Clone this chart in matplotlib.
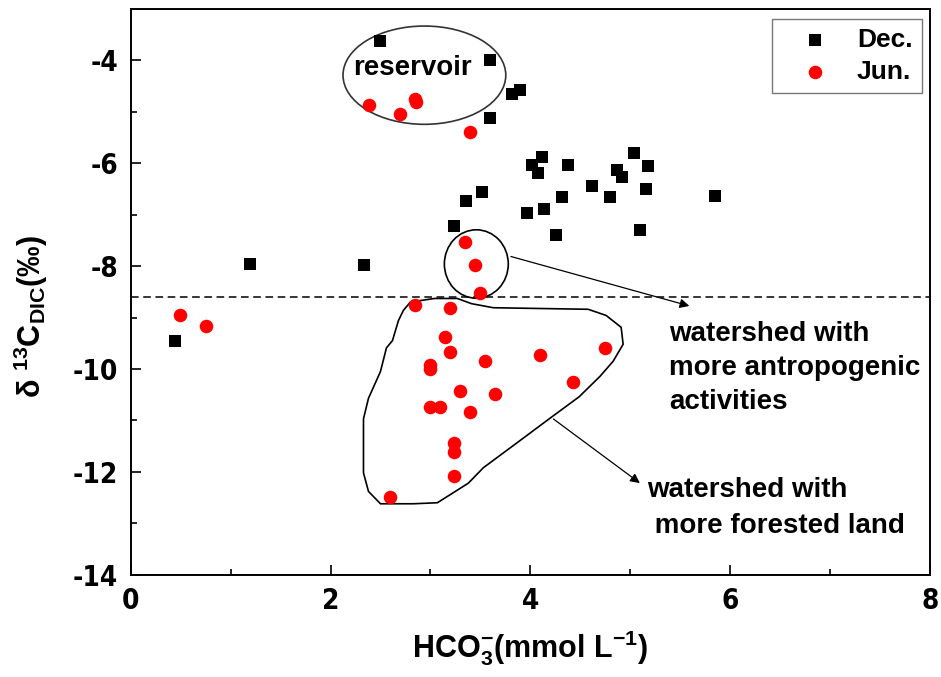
import numpy as np
import matplotlib
matplotlib.use("Agg")
import matplotlib.pyplot as plt
import matplotlib.font_manager as fm
from matplotlib.patches import Ellipse, Polygon

# look for a condensed bold face for tick labels (Arial Narrow look)
_cond = None
for _fe in fm.fontManager.ttflist:
    _nm = (_fe.name + " " + str(_fe.stretch)).lower()
    if ("narrow" in _nm or "condensed" in _nm) and str(_fe.weight) in ("700", "bold"):
        _cond = fm.FontProperties(fname=_fe.fname)
        break

plt.rcParams["font.family"] = ["Liberation Sans", "DejaVu Sans"]
plt.rcParams["axes.unicode_minus"] = False
plt.rcParams["mathtext.fontset"] = "custom"
plt.rcParams["mathtext.rm"] = "Liberation Sans:bold"
plt.rcParams["mathtext.bf"] = "Liberation Sans:bold"
plt.rcParams["mathtext.it"] = "Liberation Sans:bold"
plt.rcParams["mathtext.default"] = "rm"

# December samples
dec_x = [2.50, 3.60, 3.82, 3.90, 3.60, 3.36, 3.52, 3.24, 3.97, 1.19, 2.34,
         4.12, 4.02, 4.08, 4.38, 5.04, 5.18, 4.87, 4.92, 4.62, 5.16, 4.80,
         4.32, 5.85, 4.14, 4.26, 5.10, 0.44]
dec_y = [-3.62, -4.00, -4.66, -4.58, -5.13, -6.73, -6.56, -7.22, -6.96, -7.96, -7.98,
         -5.88, -6.04, -6.20, -6.03, -5.81, -6.06, -6.14, -6.27, -6.44, -6.50, -6.65,
         -6.65, -6.64, -6.90, -7.40, -7.29, -9.45]

# June samples
jun_x = [2.39, 2.70, 2.85, 2.86, 3.40, 3.35, 3.45, 3.50,
         0.49, 0.75, 2.85, 3.20, 3.15, 3.20, 3.00, 3.00, 3.55, 4.10, 4.75,
         4.43, 3.30, 3.65, 3.00, 3.10, 3.40, 3.24, 3.24, 3.24, 2.60]
jun_y = [-4.86, -5.04, -4.76, -4.82, -5.39, -7.53, -7.98, -8.52,
         -8.95, -9.16, -8.75, -8.82, -9.38, -9.67, -9.93, -10.00, -9.84, -9.73, -9.59,
         -10.25, -10.42, -10.48, -10.74, -10.73, -10.84, -11.43, -11.61, -12.08, -12.48]

threshold = -8.6

# outline of the forested-watershed group
forest_x = [2.80, 3.04, 3.27, 3.41, 3.63, 4.58, 4.76, 4.91, 4.93, 4.83, 4.70, 4.49,
            4.21, 3.85, 3.53, 3.38, 3.07, 2.83, 2.50, 2.38, 2.33, 2.33, 2.38, 2.50,
            2.56, 2.62, 2.68, 2.73]
forest_y = [-8.70, -8.63, -8.63, -8.73, -8.81, -8.84, -8.96, -9.19, -9.52, -9.85, -10.14,
            -10.54, -10.94, -11.46, -11.92, -12.22, -12.60, -12.62, -12.62, -12.38,
            -12.02, -10.97, -10.57, -10.05, -9.59, -9.45, -9.06, -8.86]

fig = plt.figure(figsize=(9.41, 6.77), dpi=100)
ax = fig.add_axes([0.139, 0.151, 0.849, 0.836])

ax.scatter(dec_x, dec_y, marker="s", s=75, color="black", label="Dec.", zorder=3,
           linewidths=0)
ax.scatter(jun_x, jun_y, marker="o", s=95, color="red", label="Jun.", zorder=3,
           linewidths=0)

ax.axhline(threshold, color="black", linestyle=(0, (5, 3)), linewidth=1.1)

# group outlines
ax.add_patch(Ellipse((2.94, -4.29), 1.63, 1.91, fill=False, edgecolor="#333333", linewidth=1.2))
ax.add_patch(Ellipse((3.46, -7.96), 0.64, 1.33, fill=False, edgecolor="black", linewidth=1.2))
ax.add_patch(Polygon(np.column_stack([forest_x, forest_y]), closed=True, fill=False,
                     edgecolor="black", linewidth=1.2))

arrow = dict(arrowstyle="-|>", color="black", linewidth=0.9, mutation_scale=14)
ax.annotate("", xy=(5.62, -8.79), xytext=(3.78, -7.80), arrowprops=arrow)
ax.annotate("", xy=(5.12, -12.25), xytext=(4.21, -10.94), arrowprops=arrow)

ax.text(2.82, -4.15, "reservoir", fontsize=20, fontweight="bold", ha="center", va="center")
ax.text(5.39, -9.98, "watershed with\nmore antropogenic\nactivities", fontsize=20,
        fontweight="bold", ha="left", va="center", linespacing=1.42)
ax.text(5.17, -12.71, "watershed with\n more forested land", fontsize=20,
        fontweight="bold", ha="left", va="center", linespacing=1.5)

ax.set_xlim(0, 8)
ax.set_ylim(-14, -3)
ax.set_xticks([0, 2, 4, 6, 8])
ax.set_xticks([1, 3, 5, 7], minor=True)
ax.set_yticks([-14, -12, -10, -8, -6, -4])
ax.set_yticks([-13, -11, -9, -7, -5], minor=True)
ax.tick_params(which="both", direction="in", top=False, right=False, width=1.2)
ax.tick_params(which="major", length=7, labelsize=17, pad=9)
ax.tick_params(which="minor", length=4)
for lab in ax.get_xticklabels() + ax.get_yticklabels():
    if _cond is not None:
        lab.set_fontproperties(_cond)
        lab.set_fontsize(20)
    else:
        lab.set_fontweight("bold")
for sp in ax.spines.values():
    sp.set_linewidth(1.4)

ax.set_xlabel(r"HCO$_3^{-}$(mmol L$^{-1}$)", fontsize=22, fontweight="bold")
ax.xaxis.set_label_coords(0.5, -0.095)
ax.set_ylabel(r"δ $^{13}$C$_{DIC}$(‰)", fontsize=22, fontweight="bold")
ax.yaxis.set_label_coords(-0.101, 0.457)

leg = ax.legend(loc="upper right", bbox_to_anchor=(0.990, 0.982), borderaxespad=0,
                fontsize=19, frameon=True, fancybox=False, edgecolor="#555555",
                handletextpad=0.35, borderpad=0.35, labelspacing=0.3, markerscale=1.0,
                handlelength=2.5)
leg.get_frame().set_linewidth(1.0)
for t in leg.get_texts():
    t.set_fontweight("bold")

fig.savefig("out.png", dpi=100)
